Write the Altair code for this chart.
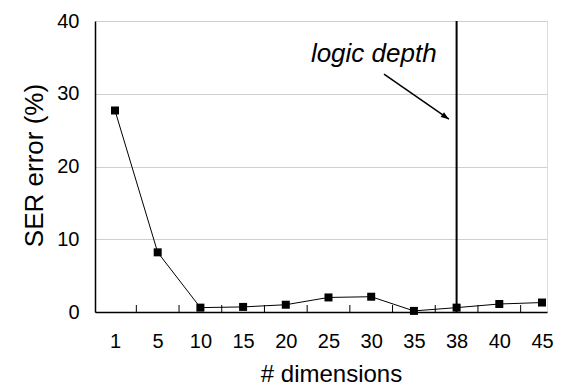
import json, math
import altair as alt
import pandas as pd

categories = ["1", "5", "10", "15", "20", "25", "30", "35", "38", "40", "45"]
ser_error = [27.7, 8.2, 0.6, 0.7, 1.0, 2.0, 2.1, 0.15, 0.6, 1.1, 1.3]
logic_depth_label = "38"
arrow_start = (6.3, 32.7)
arrow_end = (7.82, 26.5)
annot_pos = (6.06, 34.4)

W, H = 452, 291
XD = [-0.468, 10.117]
YD = [0, 40]
FONT = "Liberation Sans"

idx = list(range(len(categories)))
df = pd.DataFrame({"i": idx, "cat": categories, "v": ser_error})
ld_idx = categories.index(logic_depth_label)

xs = alt.Scale(domain=XD, nice=False, zero=False)
ys = alt.Scale(domain=YD, nice=False)

label_expr = json.dumps(categories) + "[datum.value]"

x_axis = alt.Axis(values=idx, labelExpr=label_expr, grid=False, ticks=False,
                  domainColor="black", domainWidth=1.5, labelFontSize=20,
                  labelFont=FONT, labelColor="black", labelPadding=19,
                  labelOverlap=False, labelBound=False,
                  title="# dimensions", titleFont=FONT, titleFontSize=24,
                  titleFontWeight="normal", titleColor="black",
                  titleX=236, titleY=62, titleBaseline="middle", titleAlign="center")
y_axis = alt.Axis(values=[0, 10, 20, 30, 40], grid=True, gridColor="#cfcfcf",
                  gridWidth=1, ticks=False, domainColor="black", domainWidth=1.5,
                  labelFontSize=20, labelFont=FONT, labelColor="black", labelPadding=16,
                  title="SER error (%)", titleFont=FONT, titleFontSize=26,
                  titleFontWeight="normal", titleColor="black", titleAngle=-90,
                  titleX=-61, titleY=144, titleBaseline="middle", titleAlign="center")

line = alt.Chart(df).mark_line(color="black", strokeWidth=1).encode(
    x=alt.X("i:Q", scale=xs, axis=x_axis),
    y=alt.Y("v:Q", scale=ys, axis=y_axis),
)
pts = alt.Chart(df).mark_point(shape="square", filled=True, size=64, color="black", opacity=1).encode(
    x=alt.X("i:Q", scale=xs), y=alt.Y("v:Q", scale=ys))

bounds = pd.DataFrame({"b": [i + 0.5 for i in idx[:-1]]})
ticks = alt.Chart(bounds).mark_rule(color="black", strokeWidth=1).encode(
    x=alt.X("b:Q", scale=xs), y=alt.value(H), y2=alt.value(H - 7))

vline = alt.Chart(pd.DataFrame({"x": [ld_idx], "y0": [YD[0]], "y1": [YD[1]]})).mark_rule(
    color="black", strokeWidth=2).encode(
    x=alt.X("x:Q", scale=xs), y=alt.Y("y0:Q", scale=ys), y2="y1:Q")

arrow_df = pd.DataFrame({"x": [arrow_start[0]], "y": [arrow_start[1]],
                         "x2": [arrow_end[0]], "y2": [arrow_end[1]]})
arrow = alt.Chart(arrow_df).mark_rule(color="black", strokeWidth=1.5).encode(
    x=alt.X("x:Q", scale=xs), y=alt.Y("y:Q", scale=ys), x2="x2:Q", y2="y2:Q")

px_per_x = W / (XD[1] - XD[0])
px_per_y = H / (YD[1] - YD[0])
dx = (arrow_end[0] - arrow_start[0]) * px_per_x
dy = (arrow_end[1] - arrow_start[1]) * px_per_y  # negative = down
ang = math.degrees(math.atan2(dx, dy)) % 360
head = alt.Chart(pd.DataFrame({"x": [arrow_end[0]], "y": [arrow_end[1]]})).mark_point(
    shape="M0,0L-0.6,1.6L0.6,1.6Z", filled=True, size=100, color="black", opacity=1,
    angle=ang).encode(x=alt.X("x:Q", scale=xs), y=alt.Y("y:Q", scale=ys))

annot = alt.Chart(pd.DataFrame({"x": [annot_pos[0]], "y": [annot_pos[1]], "t": ["logic depth"]})).mark_text(
    font=FONT, fontSize=26, fontStyle="italic", color="black", align="center",
    baseline="alphabetic").encode(x=alt.X("x:Q", scale=xs), y=alt.Y("y:Q", scale=ys), text="t:N")

chart = alt.layer(line, ticks, vline, arrow, head, pts, annot).properties(
    width=W, height=H,
    autosize=alt.AutoSizeParams(type="none"),
    padding={"left": 87, "top": 13, "right": 7, "bottom": 76},
).configure_view(stroke=None).configure(background="white")

chart.save("out.html", embed_options={"renderer": "svg", "actions": False})
